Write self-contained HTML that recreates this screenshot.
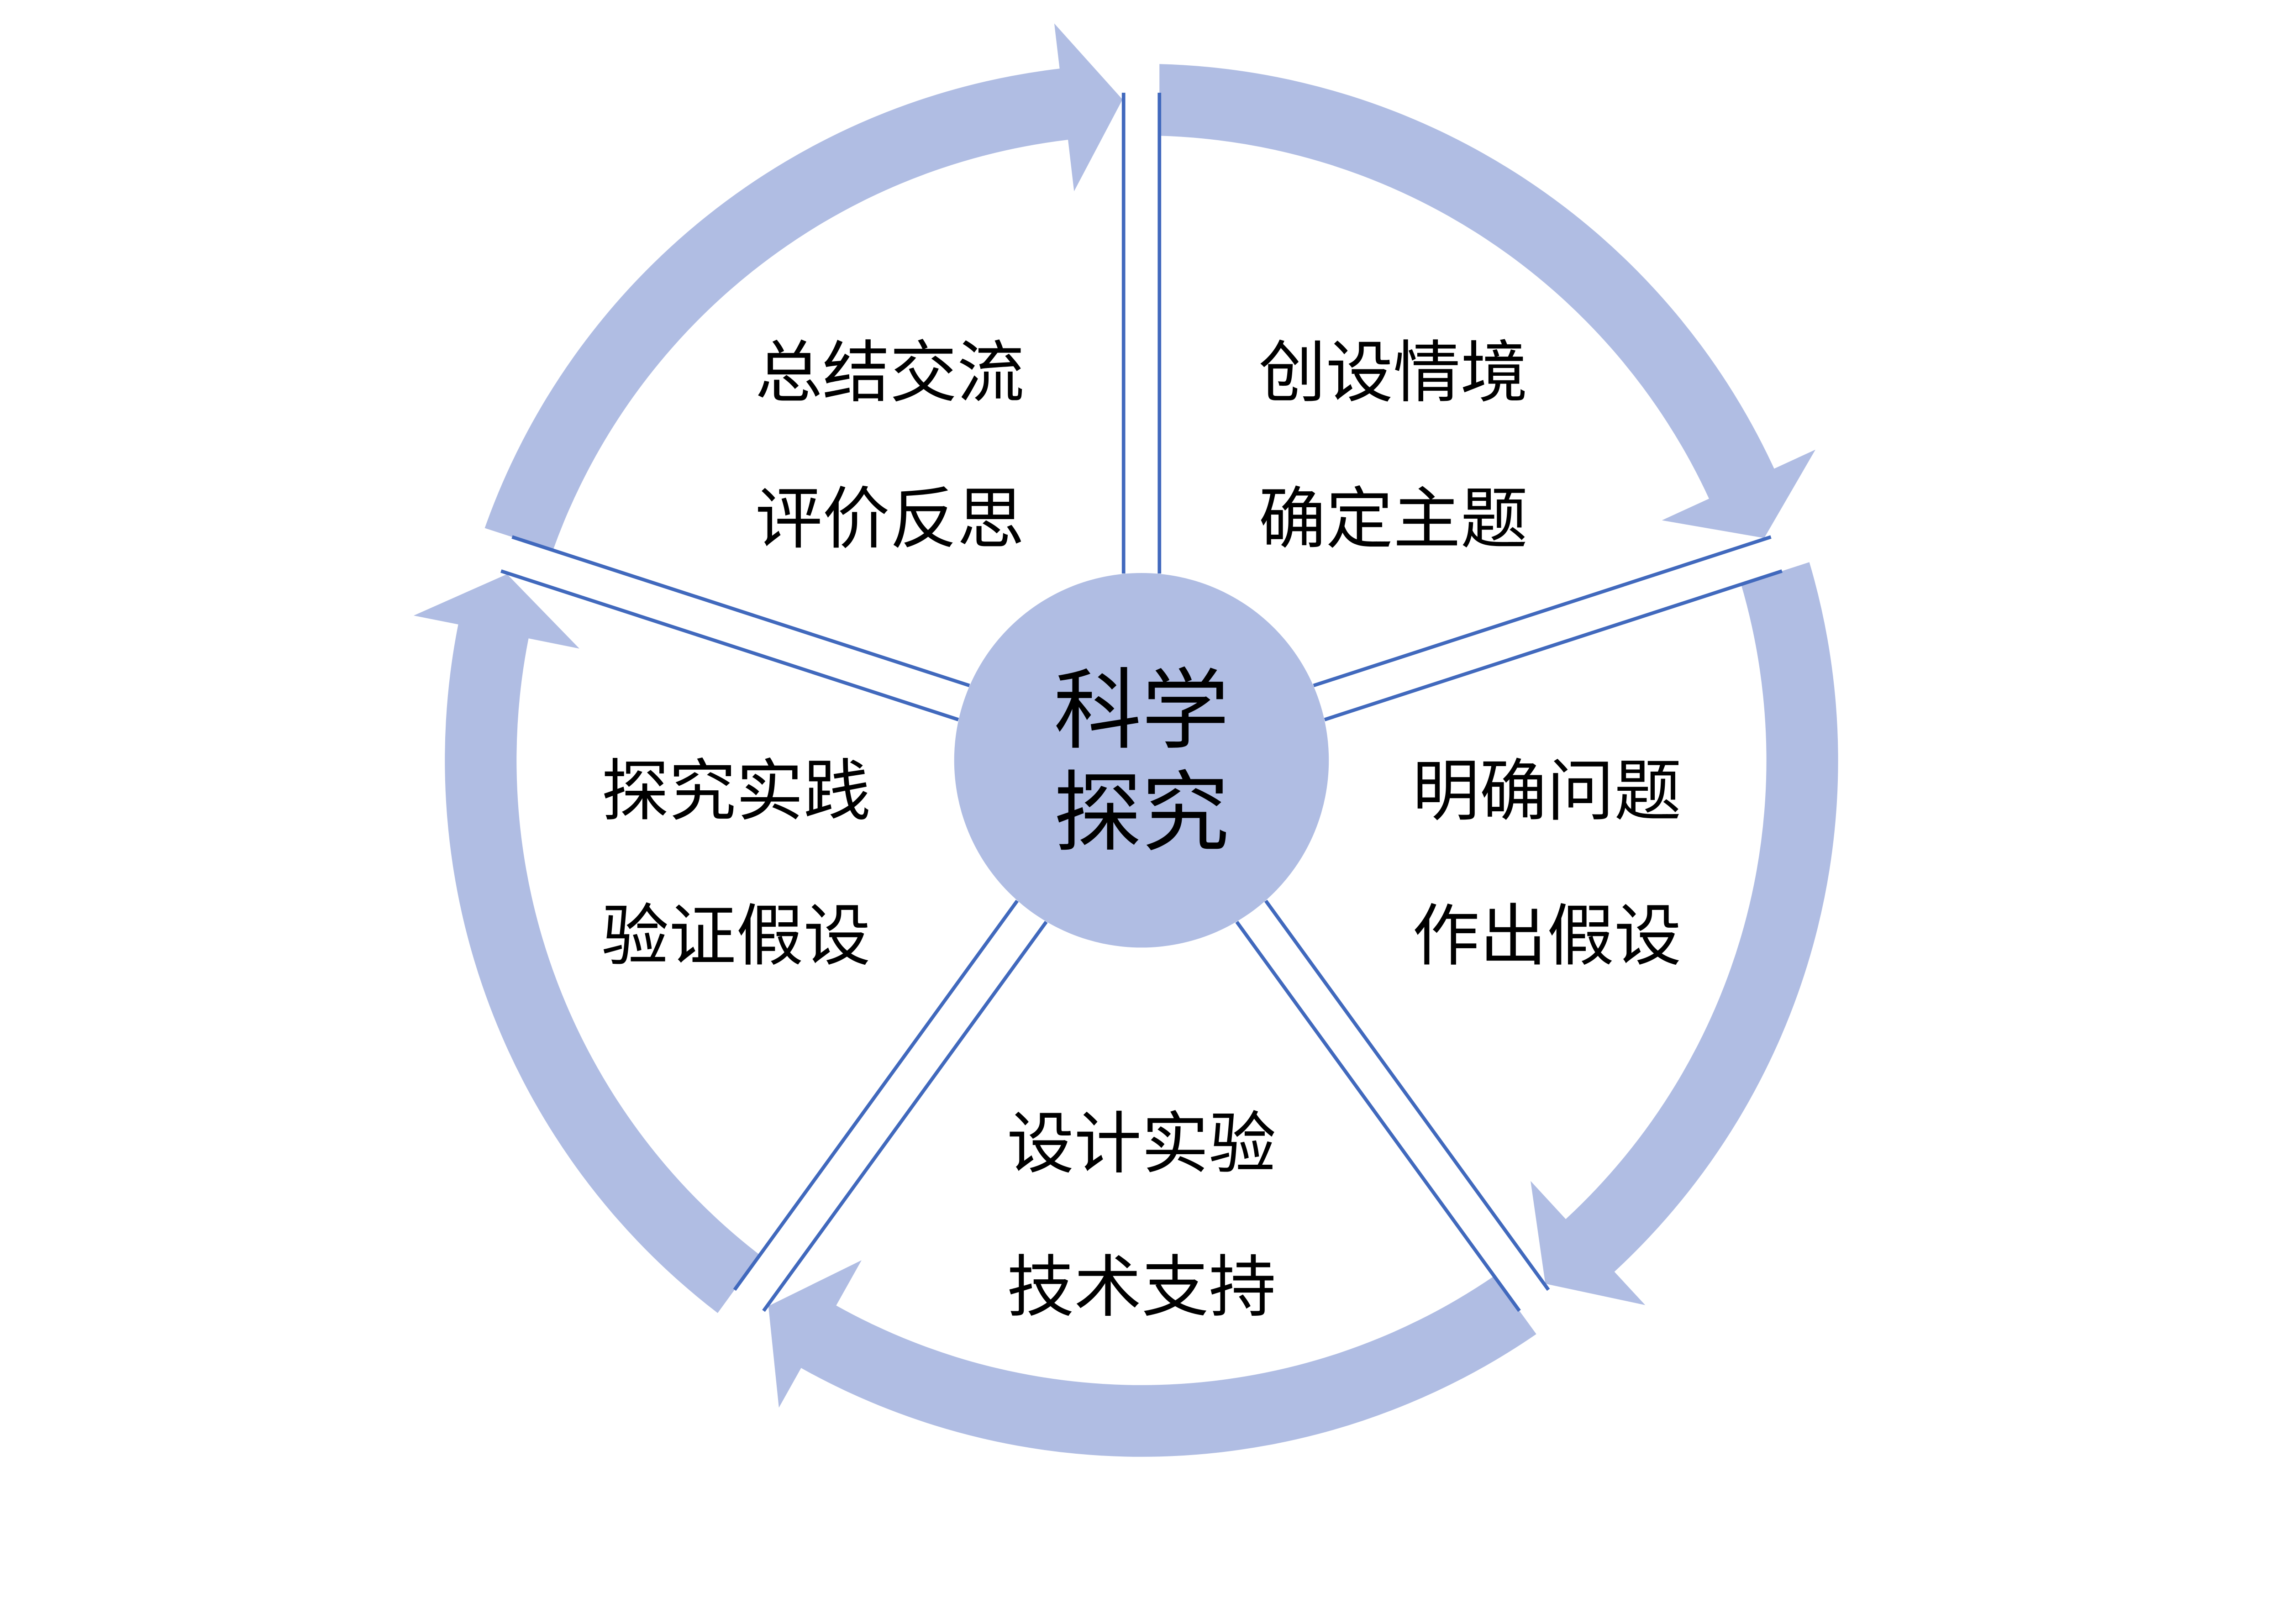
<!DOCTYPE html>
<html><head><meta charset="utf-8"><style>
html,body{margin:0;padding:0;background:#fff;overflow:hidden;}
svg{display:block;width:100vw;height:66.66vw;}
text{font-family:"Liberation Sans","Noto Sans CJK SC",sans-serif;fill:#000;}
</style></head><body>
<svg viewBox="0 0 1560 1040" preserveAspectRatio="none" xmlns="http://www.w3.org/2000/svg">
<rect width="1560" height="1040" fill="#fff"/>
<defs>
<path id="seg" fill="#B0BDE3" d="M792.25,43.76 A476,476 0 0 1 1212.3,320.3 L1240.5,307.3 L1205.5,367.7 L1135.6,355.6 L1167.8,340.8 A427,427 0 0 0 792.25,92.78 Z"/>
<g id="spk" stroke="#4169BD" stroke-width="2.4" fill="none">
<line x1="767.75" y1="392" x2="767.75" y2="63.4"/>
<line x1="792.25" y1="392" x2="792.25" y2="63.4"/>
</g>
</defs>
<use href="#seg"/>
<use href="#seg" transform="rotate(72 780 519.6)"/>
<use href="#seg" transform="rotate(144 780 519.6)"/>
<use href="#seg" transform="rotate(216 780 519.6)"/>
<use href="#seg" transform="rotate(288 780 519.6)"/>
<use href="#spk"/>
<use href="#spk" transform="rotate(72 780 519.6)"/>
<use href="#spk" transform="rotate(144 780 519.6)"/>
<use href="#spk" transform="rotate(216 780 519.6)"/>
<use href="#spk" transform="rotate(288 780 519.6)"/>
<circle cx="780" cy="519.6" r="128" fill="#B0BDE3"/>
<g font-size="46" dominant-baseline="central">
<text x="516" y="255">总结交流</text>
<text x="516" y="355">评价反思</text>
<text x="860" y="255">创设情境</text>
<text x="860" y="355">确定主题</text>
<text x="965" y="541">明确问题</text>
<text x="965" y="640">作出假设</text>
<text x="411" y="541">探究实践</text>
<text x="411" y="640">验证假设</text>
<text x="688" y="782">设计实验</text>
<text x="688" y="880">技术支持</text>
</g>
<g font-size="60" dominant-baseline="central" text-anchor="middle">
<text x="780" y="485.6">科学</text>
<text x="780" y="555.6">探究</text>
</g>
</svg>
</body></html>
